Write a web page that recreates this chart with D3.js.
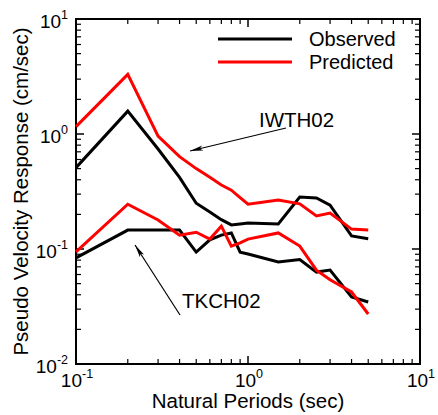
<!DOCTYPE html>
<html>
<head>
<meta charset="utf-8">
<script src="https://cdn.jsdelivr.net/npm/d3@7"></script>
<style>
  body { margin: 0; background: #fff; }
  svg { font-family: "Liberation Sans", Arial, sans-serif; }
</style>
</head>
<body>
<svg id="chart" width="438" height="415"></svg>
<script>
// natural periods (sec)
var periods = [0.1, 0.2, 0.3, 0.4, 0.5, 0.6, 0.7, 0.8, 0.9, 1.0, 1.5, 2.0, 2.5, 3.0, 4.0, 5.0];

// pseudo velocity response (cm/sec)
var iwthObserved  = [0.51, 1.58, 0.74, 0.42, 0.25, 0.21, 0.18, 0.162, 0.165, 0.168, 0.165, 0.283, 0.278, 0.241, 0.13, 0.123];
var iwthPredicted = [1.16, 3.3, 0.96, 0.635, 0.50, 0.42, 0.36, 0.325, 0.28, 0.245, 0.267, 0.247, 0.194, 0.205, 0.149, 0.146];
var tkchObserved  = [0.0836, 0.146, 0.146, 0.146, 0.094, 0.12, 0.132, 0.138, 0.094, 0.0906, 0.077, 0.081, 0.063, 0.0655, 0.0383, 0.0346];
var tkchPredicted = [0.0946, 0.245, 0.179, 0.132, 0.14, 0.122, 0.158, 0.106, 0.113, 0.122, 0.138, 0.106, 0.0655, 0.054, 0.0423, 0.0272];

var xDecades = [-1, 0, 1];
var yDecades = [-2, -1, 0, 1];

var svg = d3.select('#chart');
var plotL = 76, plotR = 420, plotT = 19, plotB = 364;

var x = d3.scaleLog().domain([0.1, 10]).range([plotL, plotR]);
var y = d3.scaleLog().domain([0.01, 10]).range([plotB, plotT]);

function minorTicks(lo, hi) {
  var t = [];
  for (var e = lo; e < hi; e++) {
    for (var m = 2; m <= 9; m++) t.push(m * Math.pow(10, e));
  }
  return t;
}
var xMajor = xDecades.map(d => Math.pow(10, d));
var yMajor = yDecades.map(d => Math.pow(10, d));
var xMinor = minorTicks(-1, 1);
var yMinor = minorTicks(-2, 1);

var g = svg.append('g');

// inward ticks on all four sides
function drawTicks(side, vals, len, w) {
  var horiz = side === 'bottom' || side === 'top';
  g.selectAll(null).data(vals).enter().append('line')
      .attr('stroke', 'black')
      .attr('stroke-width', w)
      .attr('x1', d => horiz ? x(d) : (side === 'left' ? plotL : plotR))
      .attr('x2', d => horiz ? x(d) : (side === 'left' ? plotL + len : plotR - len))
      .attr('y1', d => !horiz ? y(d) : (side === 'bottom' ? plotB : plotT))
      .attr('y2', d => !horiz ? y(d) : (side === 'bottom' ? plotB - len : plotT + len));
}
['bottom', 'top'].forEach(s => {
  drawTicks(s, xMajor, 8, 1.5);
  drawTicks(s, xMinor, 5, 1.2);
});
['left', 'right'].forEach(s => {
  drawTicks(s, yMajor, 8, 1.5);
  drawTicks(s, yMinor, 5, 1.2);
});

g.append('rect')
    .attr('x', plotL).attr('y', plotT)
    .attr('width', plotR - plotL).attr('height', plotB - plotT)
    .attr('fill', 'none')
    .attr('stroke', 'black')
    .attr('stroke-width', 2);

// tick labels 10^n
var xl = g.selectAll(null).data(xDecades).enter().append('text')
    .attr('x', d => x(Math.pow(10, d)) + 1)
    .attr('y', plotB + 23)
    .attr('text-anchor', 'middle')
    .attr('font-size', 19);
xl.append('tspan').text('10');
xl.append('tspan').attr('dy', -9).attr('font-size', 12.5).text(d => d);

var yl = g.selectAll(null).data(yDecades).enter().append('text')
    .attr('x', plotL - 8)
    .attr('y', d => y(Math.pow(10, d)) + 9)
    .attr('text-anchor', 'end')
    .attr('font-size', 19);
yl.append('tspan').text('10');
yl.append('tspan').attr('dy', -9).attr('font-size', 12.5).text(d => d);

// axis titles
g.append('text')
    .attr('x', (plotL + plotR) / 2)
    .attr('y', 408)
    .attr('text-anchor', 'middle')
    .attr('font-size', 20.5)
    .text('Natural Periods (sec)');

g.append('text')
    .attr('transform', 'translate(28,' + (plotT + plotB) / 2 + ') rotate(-90)')
    .attr('text-anchor', 'middle')
    .attr('font-size', 20.5)
    .text('Pseudo Velocity Response (cm/sec)');

// series
var line = d3.line()
    .x(d => x(d[0]))
    .y(d => y(d[1]));

var series = [
  { vals: iwthObserved, color: 'black' },
  { vals: iwthPredicted, color: '#ff0000' },
  { vals: tkchObserved, color: 'black' },
  { vals: tkchPredicted, color: '#ff0000' }
];
series.forEach(s => {
  g.append('path')
      .attr('fill', 'none')
      .attr('stroke', s.color)
      .attr('stroke-width', 3)
      .attr('d', line(periods.map((p, i) => [p, s.vals[i]])));
});

// legend
var legend = [
  { label: 'Observed', color: 'black', ly: 39 },
  { label: 'Predicted', color: '#ff0000', ly: 62 }
];
legend.forEach(l => {
  g.append('line')
      .attr('x1', 218).attr('x2', 292)
      .attr('y1', l.ly).attr('y2', l.ly)
      .attr('stroke', l.color)
      .attr('stroke-width', 3);
  g.append('text')
      .attr('x', 309).attr('y', l.ly + 7)
      .attr('font-size', 20)
      .text(l.label);
});

// annotations with arrows
svg.append('defs').append('marker')
    .attr('id', 'arrow')
    .attr('viewBox', '0 0 14 6')
    .attr('refX', 13).attr('refY', 3)
    .attr('markerWidth', 14).attr('markerHeight', 6)
    .attr('markerUnits', 'userSpaceOnUse')
    .attr('orient', 'auto')
  .append('path')
    .attr('d', 'M0,0.5 L13,3 L0,5.5 L3,3 Z')
    .attr('fill', 'black');

var notes = [
  { label: 'IWTH02', tx: 259, ty: 127, from: [286, 128], to: [190, 151] },
  { label: 'TKCH02', tx: 182, ty: 308, from: [180, 315], to: [135, 245] }
];
notes.forEach(n => {
  g.append('text')
      .attr('x', n.tx).attr('y', n.ty)
      .attr('font-size', 20.5)
      .text(n.label);
  g.append('line')
      .attr('x1', n.from[0]).attr('y1', n.from[1])
      .attr('x2', n.to[0]).attr('y2', n.to[1])
      .attr('stroke', 'black')
      .attr('stroke-width', 1.2)
      .attr('marker-end', 'url(#arrow)');
});
</script>
</body>
</html>
